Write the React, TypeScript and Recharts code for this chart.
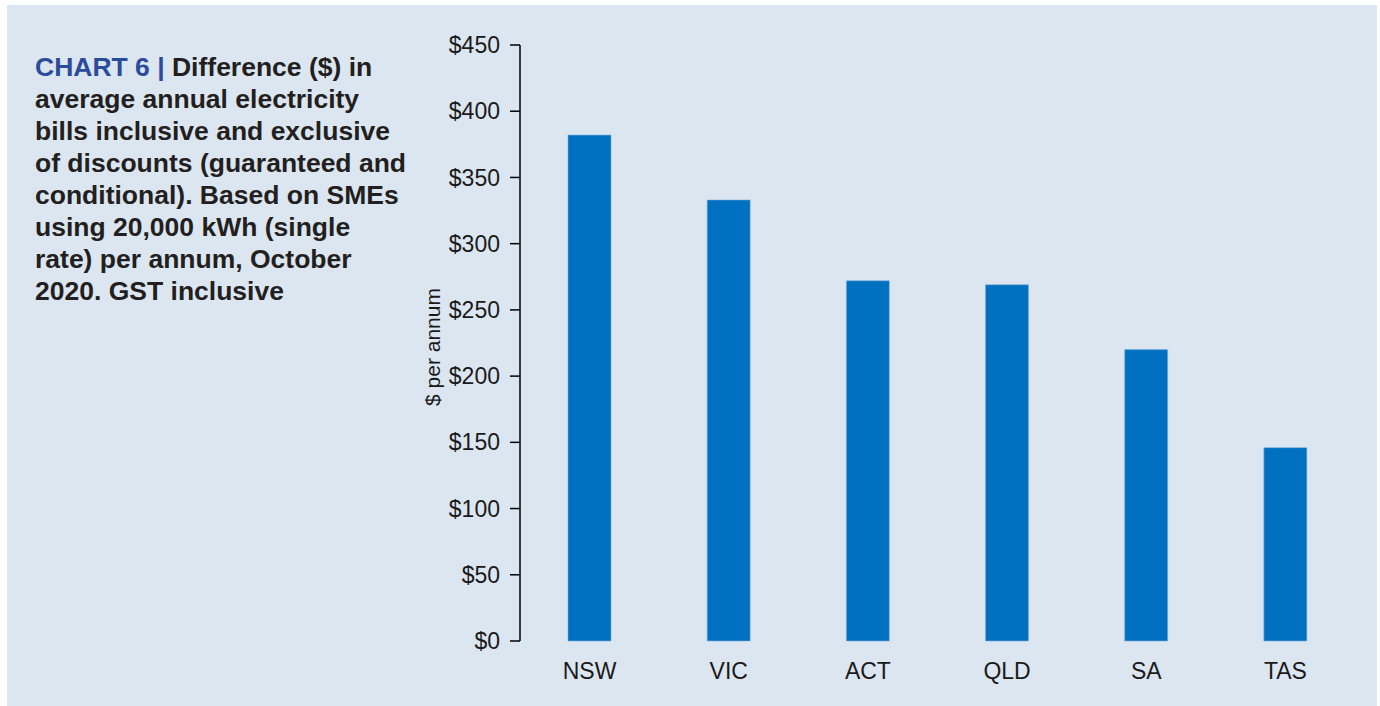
import React from 'react';
import { BarChart, Bar, XAxis, YAxis } from 'recharts';

const categories = ['NSW', 'VIC', 'ACT', 'QLD', 'SA', 'TAS'];
const differenceValues = [382, 333, 272, 269, 220, 146];
const yTicks = [0, 50, 100, 150, 200, 250, 300, 350, 400, 450];
const edgeTicks = [0, 1, 2, 3, 4, 5, 6];

const data = categories.map((c, i) => ({ state: c, value: differenceValues[i] }));

const FONT = '"Liberation Sans", Arial, Helvetica, sans-serif';

const YLabel = (props: any) => {
  const vb = props.viewBox || {};
  const cx = vb.x + vb.width - 88;
  const cy = vb.y + vb.height / 2 + 4;
  return (
    <text
      x={cx}
      y={cy}
      transform={`rotate(-90 ${cx} ${cy})`}
      textAnchor="middle"
      dominantBaseline="central"
      fontSize={21}
      fontFamily={FONT}
      fill="#1a1a1a"
    >
      $ per annum
    </text>
  );
};

export default function App() {
  return (
    <div style={{ position: 'absolute', left: 0, top: 0, width: 1380, height: 706, background: '#ffffff', overflow: 'hidden' }}>
      <div style={{ position: 'absolute', left: 7, top: 5, width: 1370, height: 701, background: '#dce6f1' }} />
      <div
        style={{
          position: 'absolute',
          left: 35,
          top: 51,
          width: 400,
          fontFamily: FONT,
          fontWeight: 700,
          fontSize: 26.5,
          lineHeight: '32px',
          color: '#231f20',
          whiteSpace: 'nowrap',
        }}
      >
        <span style={{ color: '#2a4c9b' }}>CHART 6 | </span>
        Difference ($) in<br />average annual electricity<br />bills inclusive and exclusive<br />of discounts (guaranteed and<br />conditional). Based on SMEs<br />using 20,000 kWh (single<br />rate) per annum, October<br />2020. GST inclusive
      </div>
      <div style={{ position: 'absolute', left: 0, top: 0 }}>
        <BarChart
          width={1380}
          height={706}
          data={data}
          margin={{ top: 45, right: 25, left: 0, bottom: 0 }}
          barCategoryGap="34.5%"
        >
          <XAxis
            xAxisId="edge"
            type="number"
            domain={[0, 6]}
            ticks={edgeTicks}
            tick={false}
            tickSize={7}
            height={0}
            axisLine={{ stroke: '#000000', strokeWidth: 1.5 }}
            tickLine={{ stroke: '#000000', strokeWidth: 1.5 }}
            allowDataOverflow
          />
          <XAxis
            dataKey="state"
            height={65}
            axisLine={false}
            tickLine={false}
            tickSize={8}
            tickMargin={14}
            tick={{ fontSize: 23, fontFamily: FONT, fill: '#1a1a1a' }}
            interval={0}
          />
          <YAxis
            width={520}
            domain={[0, 450]}
            ticks={yTicks}
            interval={0}
            tickFormatter={(v: number) => `$${v}`}
            tickSize={10}
            tickMargin={10}
            tick={{ fontSize: 23, fontFamily: FONT, fill: '#1a1a1a' }}
            axisLine={{ stroke: '#000000', strokeWidth: 1.5 }}
            tickLine={{ stroke: '#000000', strokeWidth: 1.5 }}
            label={<YLabel />}
          />
          <Bar dataKey="value" fill="#0070c0" stroke="#7fb0dc" strokeWidth={0.6} isAnimationActive={false} />
        </BarChart>
      </div>
    </div>
  );
}
